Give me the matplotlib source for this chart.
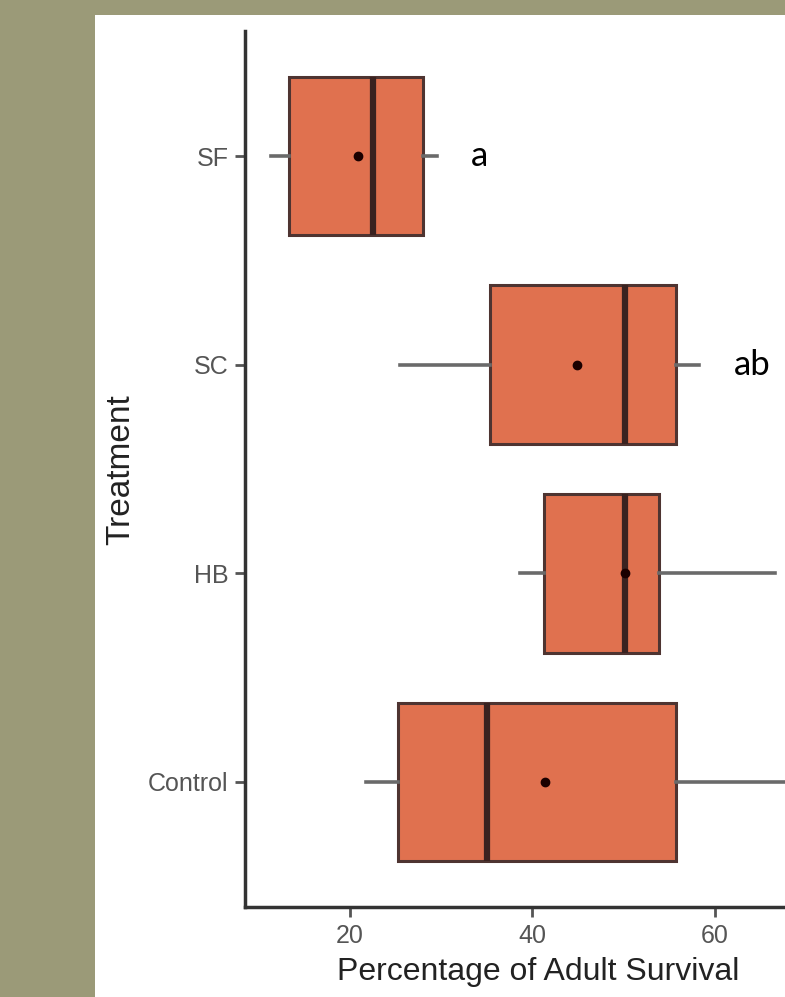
import matplotlib.pyplot as plt
from matplotlib.patches import Rectangle

# Data, bottom to top
treatments = ["Control", "HB", "SC", "SF"]
whisker_lo = [21.8, 38.6, 25.5, 11.4]
q1 = [25.3, 41.3, 35.4, 13.3]
medians = [35.0, 50.2, 50.2, 22.5]
q3 = [55.7, 53.9, 55.7, 28.0]
whisker_hi = [75.0, 66.6, 58.3, 29.5]
means = [41.4, 50.2, 44.9, 20.9]
letters = ["", "", "ab", "a"]

box_fill = "#e0714f"
box_edge = "#4e3431"
olive = "#9b9a78"

plt.rcParams["font.family"] = ["Liberation Sans", "DejaVu Sans"]

fig = plt.figure(figsize=(7.85, 9.97), dpi=100)
fig.patch.set_facecolor(olive)
fig.patches.append(Rectangle((95 / 785, 0), 1 - 95 / 785, 1 - 15 / 997,
                             transform=fig.transFigure, facecolor="white",
                             edgecolor="none", zorder=-10))

ax = fig.add_axes([245 / 785, 90 / 997, 1 - 245 / 785, (907 - 31) / 997])
ax.patch.set_alpha(0)

stats = []
for i, name in enumerate(treatments):
    stats.append({
        "label": name,
        "whislo": whisker_lo[i],
        "q1": q1[i],
        "med": medians[i],
        "q3": q3[i],
        "whishi": whisker_hi[i],
        "mean": means[i],
        "fliers": [],
    })

positions = list(range(1, len(treatments) + 1))
ax.bxp(stats, positions=positions, vert=False, widths=0.76,
       patch_artist=True, showcaps=False, showmeans=True, showfliers=False,
       boxprops=dict(facecolor=box_fill, edgecolor=box_edge, linewidth=2.2),
       medianprops=dict(color="#3a2220", linewidth=4.5),
       whiskerprops=dict(color="#6a6a6a", linewidth=2.6),
       meanprops=dict(marker="o", markerfacecolor="#1a0000",
                      markeredgecolor="#1a0000", markersize=6))

# significance letters to the right of the whiskers
for i, txt in enumerate(letters):
    if txt:
        ax.text(whisker_hi[i] + 3.8, positions[i], txt,
                fontsize=25, family=["Lato", "DejaVu Sans"],
                va="center", ha="left", color="black")

ax.set_xlim(8.5, 67.7)
ax.set_ylim(0.4, 4.6)
ax.set_xticks([20, 40, 60])
ax.set_yticks(positions)
ax.set_yticklabels(treatments)

for side in ["top", "right"]:
    ax.spines[side].set_visible(False)
for side in ["left", "bottom"]:
    ax.spines[side].set_color("#333333")
    ax.spines[side].set_linewidth(2.5)

ax.tick_params(axis="both", colors="#555555", labelsize=18, length=7,
               width=2, pad=5)

fig.text(538 / 785, 1 - 972 / 997, "Percentage of Adult Survival",
         fontsize=23, color="#222222", ha="center", va="center")
fig.text(121 / 785, 1 - 470 / 997, "Treatment", rotation=90,
         fontsize=24, color="#222222", ha="center", va="center")

fig.savefig("out.png", dpi=100, facecolor=fig.get_facecolor())
